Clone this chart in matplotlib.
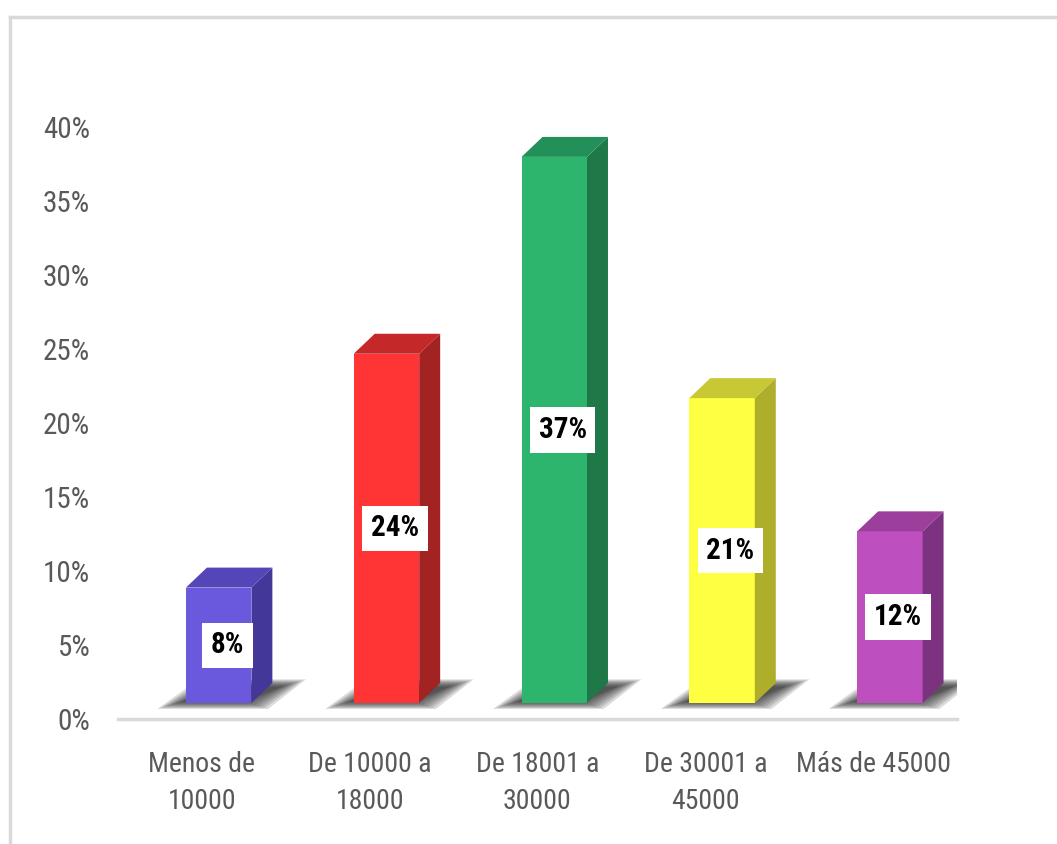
import matplotlib
matplotlib.use("Agg")
import matplotlib.pyplot as plt
from matplotlib import font_manager
from matplotlib.patches import Polygon
from matplotlib.lines import Line2D
import numpy as np

# Data
categories = ["Menos de\n10000", "De 10000 a\n18000", "De 18001 a\n30000",
              "De 30001 a\n45000", "Más de 45000"]
values = [7.8, 23.6, 36.9, 20.6, 11.6]
front_colors = ["#6A59DC", "#FF3434", "#2DB56D", "#FFFF42", "#BD4FBF"]
side_colors = ["#43379A", "#A32222", "#1E7847", "#AEAE2A", "#7D327F"]
top_colors = ["#5446B8", "#C42828", "#23905A", "#C8C834", "#9B3E9C"]
yticks = [0, 5, 10, 15, 20, 25, 30, 35, 40]

# pick a condensed font if there is one
names = {f.name for f in font_manager.fontManager.ttflist}
family = "DejaVu Sans"
for cand in ["Liberation Sans Narrow", "Roboto Condensed", "Open Sans Condensed", "Liberation Sans"]:
    if cand in names:
        family = cand
        break
plt.rcParams["font.family"] = [family, "DejaVu Sans"]

fig = plt.figure(figsize=(10.57, 8.44), dpi=100)
ax = fig.add_axes([118 / 1057, 1 - 719 / 844, 839 / 1057, 592 / 844])

# bar geometry (3D look)
base = 1.08
off = 0.1
w = 0.39
dx = 0.125
dy = 1.35

x = np.arange(len(values))
for i, v in enumerate(values):
    xl = x[i] + off - w / 2
    xr = x[i] + off + w / 2
    top = base + v
    # soft shadow on the floor
    for k in range(8):
        g = 0.02 * k
        h = 0.07 * k
        sh = Polygon([(xl - 0.17 + g, base - 0.4 + h), (xr + 0.1 - g, base - 0.4 + h),
                      (xr + dx + 0.2 - g, base + dy + 0.25 - h),
                      (xl + dx - 0.05 + g, base + dy + 0.25 - h)],
                     closed=True, facecolor="#202020", edgecolor="none", alpha=0.16, zorder=1)
        ax.add_patch(sh)
    ax.bar(x[i] + off, v, bottom=base, width=w, color=front_colors[i], zorder=3)
    side = Polygon([(xr, base), (xr + dx, base + dy), (xr + dx, top + dy), (xr, top)],
                   closed=True, facecolor=side_colors[i], edgecolor="none", zorder=3)
    ax.add_patch(side)
    tp = Polygon([(xl, top), (xl + dx, top + dy), (xr + dx, top + dy), (xr, top)],
                 closed=True, facecolor=top_colors[i], edgecolor="none", zorder=3)
    ax.add_patch(tp)
    ax.text(x[i] + off + dx * 0.4, base + v / 2, f"{v:.0f}%", ha="center", va="center",
            fontsize=21, fontweight="bold", color="black", zorder=5,
            bbox=dict(boxstyle="square,pad=0.3", facecolor="white", edgecolor="none"))

ax.set_xlim(-0.5, len(values) - 0.5)
ax.set_ylim(0, 40)
ax.set_yticks(yticks)
ax.set_yticklabels([f"{t}%" for t in yticks])
ax.set_xticks(x)
ax.set_xticklabels(categories, linespacing=1.5)
ax.tick_params(axis="both", length=0, labelcolor="#595959")
ax.tick_params(axis="y", pad=20, labelsize=21)
ax.tick_params(axis="x", pad=23, labelsize=20)
for s in ["top", "right", "left"]:
    ax.spines[s].set_visible(False)
ax.spines["bottom"].set_color("#D9D9D9")
ax.spines["bottom"].set_linewidth(2.5)
ax.spines["bottom"].set_zorder(0)

# light frame around the chart area
fig.add_artist(Line2D([10 / 1057, 10 / 1057], [0, 1 - 17 / 844], color="#D9D9D9", lw=2.5))
fig.add_artist(Line2D([10 / 1057, 1], [1 - 17 / 844, 1 - 17 / 844], color="#D9D9D9", lw=2.5))

fig.savefig("out.png", dpi=100)
